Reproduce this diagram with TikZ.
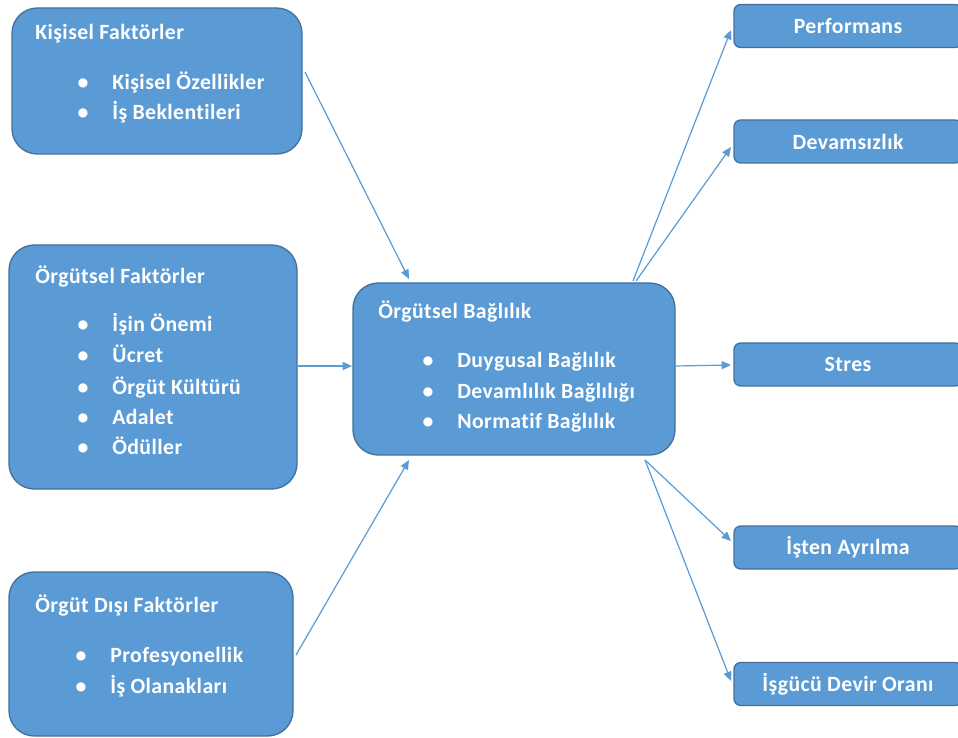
\documentclass[tikz,border=0pt]{standalone}
\usepackage{fontspec}
\setmainfont{Carlito}[Ligatures={NoCommon}, LetterSpace=2]
\usetikzlibrary{arrows.meta}
\definecolor{boxfill}{HTML}{5B9BD5}
\definecolor{boxline}{HTML}{41719C}
\definecolor{arrowc}{HTML}{5B9BD5}
\tikzset{
  bigbox/.style={draw=boxline, line width=1pt, fill=boxfill, rounded corners=19pt, inner sep=0pt},
  smallbox/.style={draw=boxline, line width=1pt, fill=boxfill, rounded corners=5pt, inner sep=0pt, minimum width=171pt, minimum height=32.25pt},
  txt/.style={anchor=base west, inner sep=0pt, text=white, font=\fontsize{16.3}{18}\selectfont\bfseries},
  ctxt/.style={anchor=center, inner sep=0pt, text=white, font=\fontsize{16.3}{18}\selectfont\bfseries},
  conn/.style={draw=arrowc, line width=0.9pt, -{Triangle[width=6pt,length=7pt]}}
}
\newcommand{\bul}[1]{\makebox[27pt][l]{\hspace{1pt}\textbullet}#1}
\begin{document}
\begin{tikzpicture}[x=0.75pt,y=-0.75pt]
\useasboundingbox (0,0) rectangle (958,738);
\clip (0,0) rectangle (958,738);
\fill[white] (0,0) rectangle (958,738);
% left boxes
\node[bigbox, minimum width=217.5pt, minimum height=109.5pt] (k) at (157,81) {};
\node[bigbox, minimum width=216pt, minimum height=183pt] (o) at (153,367) {};
\node[bigbox, minimum width=213pt, minimum height=123pt] (d) at (151,654) {};
\node[bigbox, minimum width=241.5pt, minimum height=129pt] (b) at (514,369) {};
% right boxes
\node[smallbox] (p) at (848,26) {};
\node[smallbox] (dv) at (848,141.5) {};
\node[smallbox] (s) at (848,364.5) {};
\node[smallbox] (ia) at (848,547.5) {};
\node[smallbox] (ig) at (848,684) {};
% texts
\node[txt] (kt) at (35,40) {Kişisel Faktörler};
\node[txt] (k1) at (76,90) {\bul{Kişisel Özellikler}};
\node[txt] (k2) at (76,120) {\bul{İş Beklentileri}};
\node[txt] (ot) at (35,284) {Örgütsel Faktörler};
\node[txt] (o1) at (76,332) {\bul{İşin Önemi}};
\node[txt] (o2) at (76,363) {\bul{Ücret}};
\node[txt] (o3) at (76,394) {\bul{Örgüt Kültürü}};
\node[txt] (o4) at (76,425) {\bul{Adalet}};
\node[txt] (o5) at (76,455) {\bul{Ödüller}};
\node[txt] (dt) at (35,612) {Örgüt Dışı Faktörler};
\node[txt] (d1) at (74,662) {\bul{Profesyonellik}};
\node[txt] (d2) at (74,693) {\bul{İş Olanakları}};
\node[txt] (bt) at (378,319) {Örgütsel Bağlılık};
\node[txt] (b1) at (421,368) {\bul{Duygusal Bağlılık}};
\node[txt] (b2) at (421,398) {\bul{Devamlılık Bağlılığı}};
\node[txt] (b3) at (421,428) {\bul{Normatif Bağlılık}};
\node[ctxt] at (p) {Performans};
\node[ctxt] at (dv) {Devamsızlık};
\node[ctxt] at (s) {Stres};
\node[ctxt] at (ia) {İşten Ayrılma};
\node[ctxt] at (ig) {İşgücü Devir Oranı};
% connector end points
\coordinate (ks) at (305,72);
\coordinate (be1) at (409,279);
\coordinate (be2) at (352,366);
\coordinate (ds) at (296,655);
\coordinate (be3) at (409,460);
\coordinate (bp) at (633,281);
\coordinate (bd) at (636,281);
\coordinate (bs) at (675,366);
\coordinate (bi) at (645,460);
\coordinate (pe) at (731,30);
\coordinate (dve) at (731,147);
\coordinate (se) at (731,365);
\coordinate (iae) at (731,541);
\coordinate (ige) at (731,681);
\draw[conn] (ks) -- (be1);
\draw[conn] (o.east |- be2) -- (be2);
\draw[conn] (ds) -- (be3);
\draw[conn] (bp) -- (pe);
\draw[conn] (bd) -- (dve);
\draw[conn] (bs) -- (se);
\draw[conn] (bi) -- (iae);
\draw[conn] (bi) -- (ige);
\end{tikzpicture}
\end{document}
